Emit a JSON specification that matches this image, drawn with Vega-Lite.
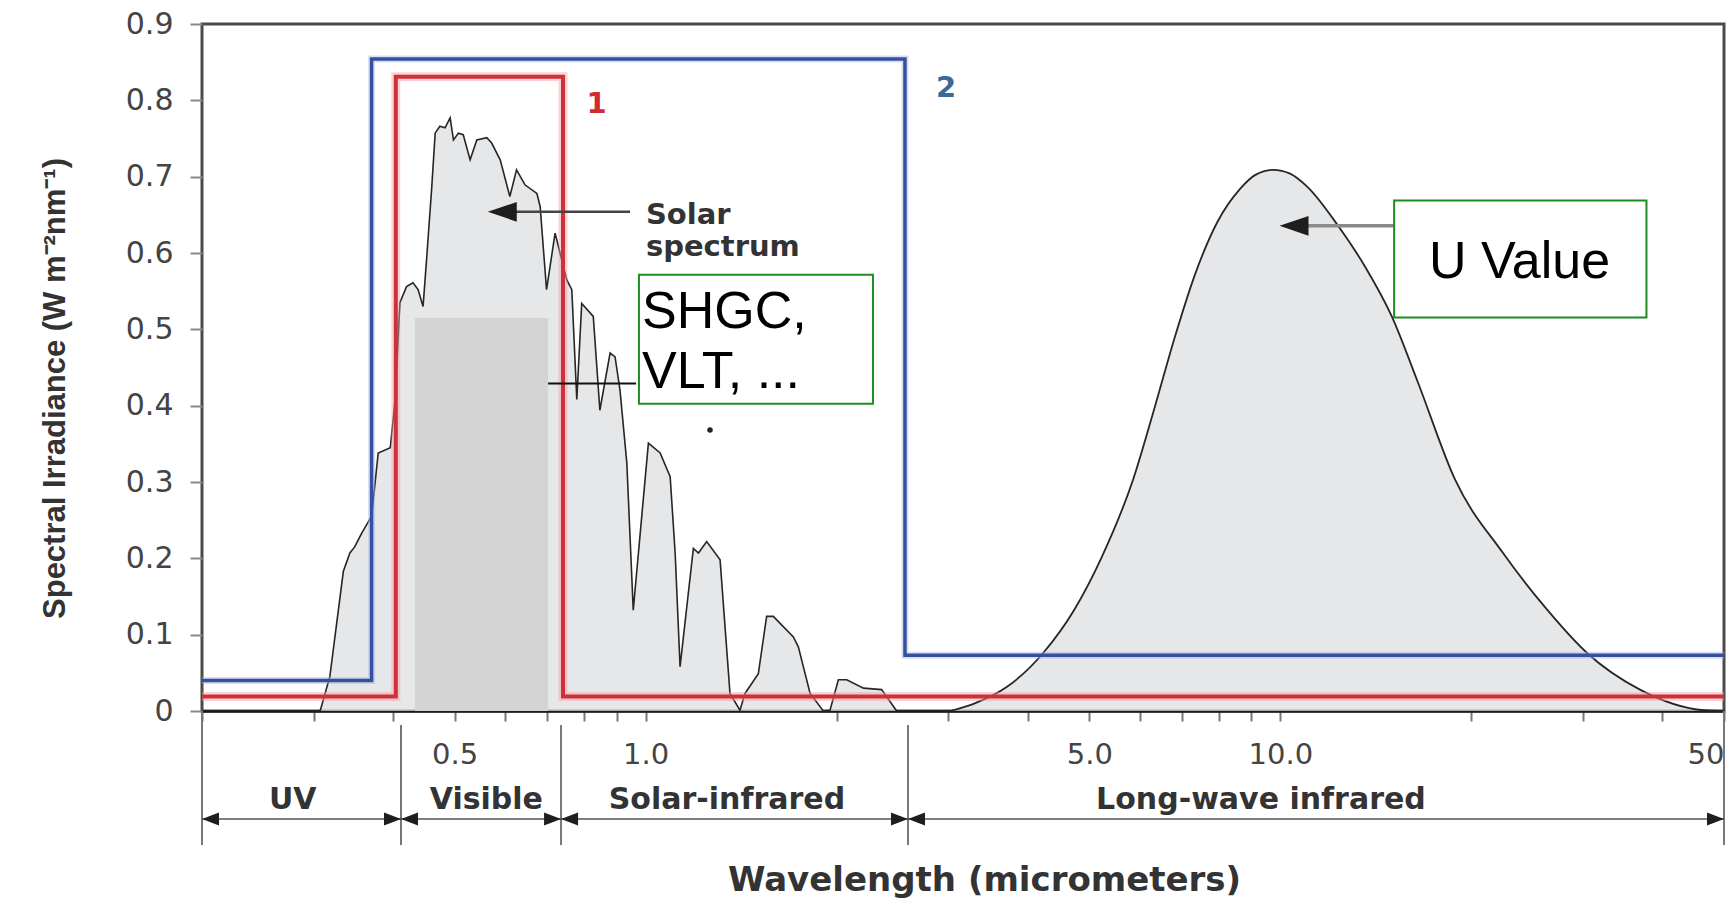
{
  "$schema": "https://vega.github.io/schema/vega-lite/v6.json",
  "width": 1522,
  "height": 687,
  "autosize": {"type": "none"},
  "padding": {"left": 202, "top": 24, "right": 5, "bottom": 187},
  "background": "white",
  "config": {"view": {"stroke": "#4a4a4a", "strokeWidth": 3}},
  "datasets": {
    "solar": [
      {"w":0.307,"v":0},{"w":0.318,"v":0.045},{"w":0.334,"v":0.183},{"w":0.342,"v":0.207},{"w":0.348,"v":0.215},
      {"w":0.357,"v":0.233},{"w":0.370,"v":0.255},{"w":0.379,"v":0.338},{"w":0.396,"v":0.345},{"w":0.403,"v":0.408},
      {"w":0.410,"v":0.535},{"w":0.420,"v":0.556},{"w":0.430,"v":0.561},{"w":0.438,"v":0.552},{"w":0.446,"v":0.530},
      {"w":0.452,"v":0.595},{"w":0.460,"v":0.683},{"w":0.466,"v":0.757},{"w":0.474,"v":0.766},{"w":0.483,"v":0.764},
      {"w":0.492,"v":0.777},{"w":0.498,"v":0.748},{"w":0.507,"v":0.757},{"w":0.516,"v":0.755},{"w":0.529,"v":0.722},
      {"w":0.542,"v":0.748},{"w":0.562,"v":0.751},{"w":0.572,"v":0.744},{"w":0.590,"v":0.722},{"w":0.611,"v":0.674},
      {"w":0.626,"v":0.709},{"w":0.646,"v":0.689},{"w":0.674,"v":0.678},{"w":0.682,"v":0.661},{"w":0.698,"v":0.552},
      {"w":0.720,"v":0.626},{"w":0.751,"v":0.565},{"w":0.765,"v":0.552},{"w":0.779,"v":0.408},{"w":0.793,"v":0.534},
      {"w":0.827,"v":0.517},{"w":0.847,"v":0.394},{"w":0.879,"v":0.469},{"w":0.895,"v":0.464},{"w":0.911,"v":0.421},
      {"w":0.934,"v":0.325},{"w":0.956,"v":0.132},{"w":1.010,"v":0.351},{"w":1.054,"v":0.338},{"w":1.093,"v":0.307},
      {"w":1.113,"v":0.207},{"w":1.133,"v":0.058},{"w":1.189,"v":0.213},{"w":1.211,"v":0.207},{"w":1.248,"v":0.222},
      {"w":1.310,"v":0.198},{"w":1.358,"v":0.023},{"w":1.408,"v":0.001},{"w":1.434,"v":0.023},{"w":1.505,"v":0.049},
      {"w":1.551,"v":0.124},{"w":1.589,"v":0.124},{"w":1.709,"v":0.097},{"w":1.740,"v":0.084},{"w":1.816,"v":0.023},
      {"w":1.905,"v":0},{"w":1.952,"v":0.001},{"w":2.012,"v":0.041},{"w":2.074,"v":0.041},{"w":2.204,"v":0.030},
      {"w":2.354,"v":0.028},{"w":2.486,"v":0}
    ],
    "bb": [
      {"w":3.02,"v":0},{"w":3.30,"v":0.010},{"w":3.70,"v":0.031},{"w":4.23,"v":0.076},{"w":4.73,"v":0.132},
      {"w":5.22,"v":0.200},{"w":5.86,"v":0.303},{"w":6.35,"v":0.400},{"w":6.82,"v":0.490},{"w":7.36,"v":0.575},
      {"w":7.95,"v":0.640},{"w":8.64,"v":0.684},{"w":9.12,"v":0.702},{"w":9.74,"v":0.709},{"w":10.36,"v":0.704},
      {"w":11.02,"v":0.687},{"w":12.37,"v":0.634},{"w":13.60,"v":0.582},{"w":15.0,"v":0.516},{"w":16.48,"v":0.430},
      {"w":18.85,"v":0.303},{"w":22.43,"v":0.207},{"w":26.12,"v":0.136},{"w":30.42,"v":0.076},{"w":36.86,"v":0.028},
      {"w":46.5,"v":0.001},{"w":50,"v":0}
    ],
    "f2": [
      {"i":1,"w":0.2,"v":0.04},{"i":2,"w":0.370,"v":0.04},{"i":3,"w":0.370,"v":0.854},
      {"i":4,"w":2.562,"v":0.854},{"i":5,"w":2.562,"v":0.073},{"i":6,"w":50,"v":0.073}
    ],
    "f1": [
      {"i":1,"w":0.2,"v":0.019},{"i":2,"w":0.404,"v":0.019},{"i":3,"w":0.404,"v":0.831},
      {"i":4,"w":0.741,"v":0.831},{"i":5,"w":0.741,"v":0.019},{"i":6,"w":50,"v":0.019}
    ],
    "cover": [{"w":0.433,"w2":0.702,"v":0,"v2":0.515}],
    "link": [{"w":0.702,"w2":0.966,"v":0.4292}],
    "solarArrow": [{"w":0.623,"w2":0.945,"v":0.654}],
    "uArrow": [{"w":11.0,"w2":15.11,"v":0.6356}],
    "heads": [{"w":0.564,"v":0.654},{"w":9.97,"v":0.6356}],
    "dot": [{"w":1.263,"v":0.368}],
    "boxes": [{"w":0.976,"w2":2.281,"v":0.4024,"v2":0.5714},{"w":15.11,"w2":37.74,"v":0.5155,"v2":0.6688}],
    "bigtext": [
      {"w":0.987,"v":0.502,"t":"SHGC,"},
      {"w":0.987,"v":0.4233,"t":"VLT, ..."},
      {"w":17.15,"v":0.5675,"t":"U Value"}
    ],
    "nums": [{"w":0.837,"v":0.795,"t":"1","c":"#d42a32"},{"w":2.974,"v":0.8165,"t":"2","c":"#3a6a96"}],
    "solarLbl": [{"w":1.001,"v":0.638,"t":"Solar"},{"w":1.001,"v":0.5963,"t":"spectrum"}],
    "div": [
      {"w":0.2,"v":0,"v2":-0.1756},{"w":0.4117,"v":-0.0183,"v2":-0.1756},{"w":0.7357,"v":-0.0183,"v2":-0.1756},
      {"w":2.59,"v":-0.0183,"v2":-0.1756},{"w":50,"v":0,"v2":-0.1756}
    ],
    "bands": [
      {"w":0.2,"w2":0.4117,"v":-0.1415},{"w":0.4117,"w2":0.7357,"v":-0.1415},
      {"w":0.7357,"w2":2.59,"v":-0.1415},{"w":2.59,"w2":50,"v":-0.1415}
    ],
    "bandL": [{"w":0.2,"v":-0.1415},{"w":0.4117,"v":-0.1415},{"w":0.7357,"v":-0.1415},{"w":2.59,"v":-0.1415}],
    "bandR": [{"w":0.4117,"v":-0.1415},{"w":0.7357,"v":-0.1415},{"w":2.59,"v":-0.1415},{"w":50,"v":-0.1415}],
    "bandLbl": [
      {"w":0.278,"v":-0.1166,"t":"UV"},{"w":0.561,"v":-0.1166,"t":"Visible"},
      {"w":1.343,"v":-0.1166,"t":"Solar-infrared"},{"w":9.32,"v":-0.1166,"t":"Long-wave infrared"}
    ]
  },
  "encoding": {
    "x": {
      "field": "w", "type": "quantitative",
      "scale": {"type": "log", "domain": [0.2, 50], "nice": false},
      "axis": {
        "title": "Wavelength (micrometers)",
        "values": [0.2,0.3,0.4,0.5,0.6,0.7,0.8,0.9,1,2,3,4,5,6,7,8,9,10,20,30,40,50],
        "labelExpr": "datum.value == 0.5 ? '0.5' : datum.value == 1 ? '1.0' : datum.value == 5 ? '5.0' : datum.value == 10 ? '10.0' : datum.value == 50 ? '50' : ''",
        "grid": false,
        "domainColor": "#1a1a1a", "domainWidth": 2.5,
        "tickColor": "#777", "tickWidth": 2, "tickSize": 10,
        "labelFont": "DejaVu Sans", "labelFontSize": 29, "labelColor": "#444",
        "labelPadding": 19, "labelFlush": true, "labelOverlap": false, "labelBound": false,
        "titleFont": "DejaVu Sans", "titleFontSize": 34, "titleFontWeight": "bold", "titleColor": "#333",
        "titleX": 782, "titleY": 169, "titleBaseline": "middle"
      }
    },
    "y": {
      "field": "v", "type": "quantitative",
      "scale": {"domain": [0, 0.9], "nice": false, "zero": false},
      "axis": {
        "title": "Spectral Irradiance (W m⁻²nm⁻¹)",
        "values": [0,0.1,0.2,0.3,0.4,0.5,0.6,0.7,0.8,0.9],
        "labelExpr": "datum.value === 0 ? '0' : format(datum.value, '.1f')",
        "grid": false, "domain": false,
        "tickColor": "#888", "tickWidth": 2, "tickSize": 12,
        "labelFont": "DejaVu Sans", "labelFontSize": 30, "labelColor": "#444", "labelPadding": 17,
        "titleFont": "Liberation Sans",
        "titleFontSize": 31, "titleFontWeight": "bold", "titleColor": "#333",
        "titleX": -147, "titleY": 364, "titleBaseline": "middle"
      }
    }
  },
  "layer": [
    {"data": {"name": "solar"}, "mark": {"type": "area", "color": "#dcdde0", "interpolate": "linear", "line": {"color": "#262626", "strokeWidth": 1.6}}},
    {"data": {"name": "bb"}, "mark": {"type": "area", "color": "#dcdde0", "interpolate": "monotone", "line": {"color": "#262626", "strokeWidth": 1.8}}},
    {"data": {"name": "cover"}, "mark": {"type": "rect", "color": "#d4d4d4"}, "encoding": {"x2": {"field": "w2"}, "y2": {"field": "v2"}}},
    {"data": {"name": "f2"}, "mark": {"type": "line", "color": "#aab6de", "strokeWidth": 7, "opacity": 0.45}, "encoding": {"order": {"field": "i"}}},
    {"data": {"name": "f2"}, "mark": {"type": "line", "color": "#3550a0", "strokeWidth": 3.5}, "encoding": {"order": {"field": "i"}}},
    {"data": {"name": "f1"}, "mark": {"type": "line", "color": "#f2a0a6", "strokeWidth": 9, "opacity": 0.45}, "encoding": {"order": {"field": "i"}}},
    {"data": {"name": "f1"}, "mark": {"type": "line", "color": "#d0303a", "strokeWidth": 4}, "encoding": {"order": {"field": "i"}}},
    {"data": {"name": "link"}, "mark": {"type": "rule", "color": "#111", "strokeWidth": 2}, "encoding": {"x2": {"field": "w2"}}},
    {"data": {"name": "solarArrow"}, "mark": {"type": "rule", "color": "#444", "strokeWidth": 2.5}, "encoding": {"x2": {"field": "w2"}}},
    {"data": {"name": "uArrow"}, "mark": {"type": "rule", "color": "#8a8a8a", "strokeWidth": 3.5}, "encoding": {"x2": {"field": "w2"}}},
    {"data": {"name": "heads"}, "mark": {"type": "point", "shape": "M-1,0L1,-0.68L1,0.68Z", "size": 841, "filled": true, "color": "#1e1e1e", "opacity": 1, "xOffset": 14.5}},
    {"data": {"name": "dot"}, "mark": {"type": "point", "shape": "circle", "size": 30, "filled": true, "color": "#222", "opacity": 1}},
    {"data": {"name": "boxes"}, "mark": {"type": "rect", "fill": "white", "stroke": "#1e8c1e", "strokeWidth": 2}, "encoding": {"x2": {"field": "w2"}, "y2": {"field": "v2"}}},
    {"data": {"name": "bigtext"}, "mark": {"type": "text", "font": "Liberation Sans", "fontSize": 52, "align": "left", "baseline": "alphabetic", "color": "black"}, "encoding": {"text": {"field": "t"}}},
    {"data": {"name": "nums"}, "mark": {"type": "text", "font": "DejaVu Sans", "fontWeight": "bold", "fontSize": 29, "align": "center", "baseline": "middle"}, "encoding": {"text": {"field": "t"}, "color": {"field": "c", "type": "nominal", "scale": null}}},
    {"data": {"name": "solarLbl"}, "mark": {"type": "text", "font": "DejaVu Sans", "fontWeight": "bold", "fontSize": 29, "align": "left", "baseline": "alphabetic", "color": "#333"}, "encoding": {"text": {"field": "t"}}},
    {"data": {"name": "div"}, "mark": {"type": "rule", "color": "#777", "strokeWidth": 2, "clip": false}, "encoding": {"y2": {"field": "v2"}}},
    {"data": {"name": "bands"}, "mark": {"type": "rule", "color": "#555", "strokeWidth": 1.5, "clip": false}, "encoding": {"x2": {"field": "w2"}}},
    {"data": {"name": "bandL"}, "mark": {"type": "point", "shape": "M-1,0L1,-0.76L1,0.76Z", "size": 289, "filled": true, "color": "#1e1e1e", "opacity": 1, "xOffset": 8.5, "clip": false}},
    {"data": {"name": "bandR"}, "mark": {"type": "point", "shape": "M1,0L-1,-0.76L-1,0.76Z", "size": 289, "filled": true, "color": "#1e1e1e", "opacity": 1, "xOffset": -8.5, "clip": false}},
    {"data": {"name": "bandLbl"}, "mark": {"type": "text", "font": "DejaVu Sans", "fontWeight": "bold", "fontSize": 30, "align": "center", "baseline": "middle", "color": "#333", "clip": false}, "encoding": {"text": {"field": "t"}}}
  ]
}
